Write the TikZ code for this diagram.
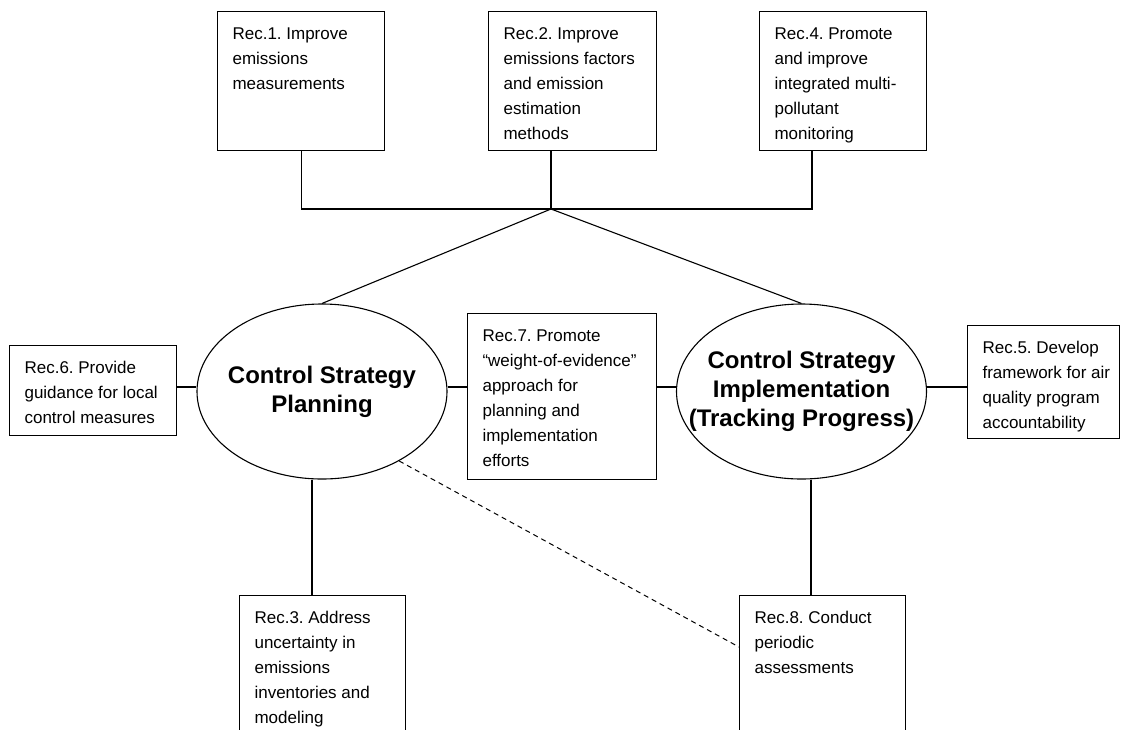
\documentclass[tikz,border=0pt]{standalone}
\usepackage{fontspec}
\setmainfont{Liberation Sans}
\usetikzlibrary{shapes.geometric}
\frenchspacing
\newcommand{\rb}[3]{\parbox[c][#2][t]{#1}{\raggedright\leftskip=15pt\exhyphenpenalty=10000\hyphenpenalty=10000\rule{0pt}{28pt}#3}}
\tikzset{
  recbox/.style={draw, line width=1.1pt, inner sep=0pt, anchor=north west, font=\fontsize{17}{25}\selectfont},
  ell/.style={draw, ellipse, line width=1.1pt, minimum width=250pt, minimum height=175pt, inner sep=0pt},
  etext/.style={align=center, inner sep=0pt, font=\fontsize{24}{29}\selectfont\bfseries},
  ln/.style={line width=1.1pt},
  dl/.style={line width=1pt, dash pattern=on 5pt off 4pt}
}
\begin{document}
\begin{tikzpicture}[x=1pt,y=-1pt]
\path[use as bounding box, fill=white] (0,0) rectangle (1121,729);
\clip (0,0) rectangle (1121,729);

% top boxes
\node[recbox] (rec1) at (217,11) {\rb{167pt}{139pt}{Rec.1. Improve\\emissions\\measurements}};
\node[recbox] (rec2) at (488,11) {\rb{168pt}{139pt}{Rec.2. Improve\\emissions factors\\and emission\\estimation\\methods}};
\node[recbox] (rec4) at (759,11) {\rb{167pt}{139pt}{Rec.4. Promote\\and improve\\integrated multi-\\pollutant\\monitoring}};

% middle row
\node[recbox] (rec6) at (9,345) {\rb{167pt}{90pt}{Rec.6. Provide\\guidance for local\\control measures}};
\node[recbox] (rec7) at (467,313) {\rb{189pt}{166pt}{Rec.7. Promote\\“weight-of-evidence”\\approach for\\planning and\\implementation\\efforts}};
\node[recbox] (rec5) at (967,325) {\rb{152pt}{113pt}{Rec.5. Develop\\framework for air\\quality program\\accountability}};

% ellipses
\node[ell] (cp) at (322,391.5) {};
\node[etext] (cpt) at (cp.center) {Control Strategy\\Planning};
\node[ell] (ci) at (801.5,391.5) {};
\node[etext] (cit) at (ci.center) {Control Strategy\\Implementation\\(Tracking Progress)};

% bottom boxes (cut off by the page)
\node[recbox] (rec3) at (239,595) {\rb{166pt}{200pt}{Rec.3. Address\\uncertainty in\\emissions\\inventories and\\modeling}};
\node[recbox] (rec8) at (739,595) {\rb{166pt}{200pt}{Rec.8. Conduct\\periodic\\assessments}};

% connectors
\coordinate (j) at (551,209);
\coordinate (r4x) at (812,209);
\draw[ln] (rec1.south) |- (r4x) -- (rec4.south -| r4x);
\draw[ln] (rec2.south -| j) -- (j);
\draw[ln] (j) -- (cp.north);
\draw[ln] (j) -- (ci.north);

\coordinate (h) at (0,387);
\draw[ln] (rec6.east |- h) -- (cp.west |- h);
\draw[ln] (cp.east |- h) -- (rec7.west |- h);
\draw[ln] (rec7.east |- h) -- (ci.west |- h);
\draw[ln] (ci.east |- h) -- (rec5.west |- h);

\coordinate (v1) at (312,0);
\coordinate (v2) at (811,0);
\draw[ln] (cp.south -| v1) -- (rec3.north -| v1);
\draw[ln] (ci.south -| v2) -- (rec8.north -| v2);

\coordinate (d) at (0,647);
\draw[dl] (cp.-42) -- (rec8.west |- d);
\end{tikzpicture}
\end{document}
